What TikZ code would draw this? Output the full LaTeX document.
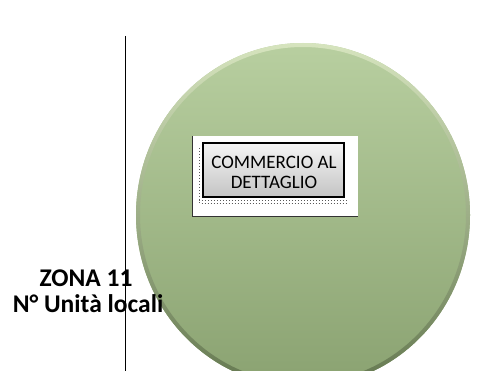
\documentclass[tikz,border=0pt]{standalone}
\usepackage{fontspec}
\setmainfont{Carlito}
\definecolor{circtop}{RGB}{184,207,160}
\definecolor{circbot}{RGB}{138,162,113}
\definecolor{rimtop}{RGB}{214,228,190}
\definecolor{rimbot}{RGB}{100,120,80}
\definecolor{boxtop}{RGB}{245,245,245}
\definecolor{boxbot}{RGB}{196,196,196}
\tikzset{
  zonelabel/.style={font=\fontsize{25.5}{27}\selectfont\bfseries, anchor=base, inner sep=0pt},
  boxlabel/.style={font=\fontsize{19}{21}\selectfont, anchor=base, inner sep=0pt},
  dotrow/.style={gray!70!black, line width=1pt, dash pattern=on 1pt off 2pt},
}
\begin{document}
\begin{tikzpicture}[x=1pt,y=-1pt]
\useasboundingbox (0,0) rectangle (478,371);
% circle (slightly tall ellipse)
\coordinate (c) at (303,215);
\shade[top color=circtop, bottom color=circbot] (c) ellipse[x radius=167, y radius=172];
\shade[top color=rimtop, bottom color=rimbot, even odd rule] (c) ellipse[x radius=167, y radius=172] (c) ellipse[x radius=163, y radius=168];
% vertical line
\coordinate (vtop) at (125.5,36);
\coordinate (vbot) at (125.5,371);
\draw[black, line width=1pt] (vtop) -- (vbot);
% white card
\fill[white] (192,136) rectangle (358,216);
\draw[black!80, line width=0.8pt] (192,136) -- (192,216) -- (358,216);
% dotted shadow
\draw[dotrow] (199,148) -- (199,204);
\draw[dotrow] (199,200.5) -- (347,200.5);
\draw[dotrow, dash phase=1.5pt] (200,203.5) -- (347,203.5);
% gray box
\shade[top color=boxtop, bottom color=boxbot] (203,143) rectangle (344,197);
\draw[black, line width=2pt] (203,143) rectangle (344,197);
\node[boxlabel] (t1) at (274,168) {COMMERCIO AL};
\node[boxlabel] (t2) at (274,188) {DETTAGLIO};
% zone labels
\node[zonelabel] (z1) at (86,286) {ZONA 11};
\node[zonelabel] (z2) at (88,312) {N° Unità locali};
\end{tikzpicture}
\end{document}
